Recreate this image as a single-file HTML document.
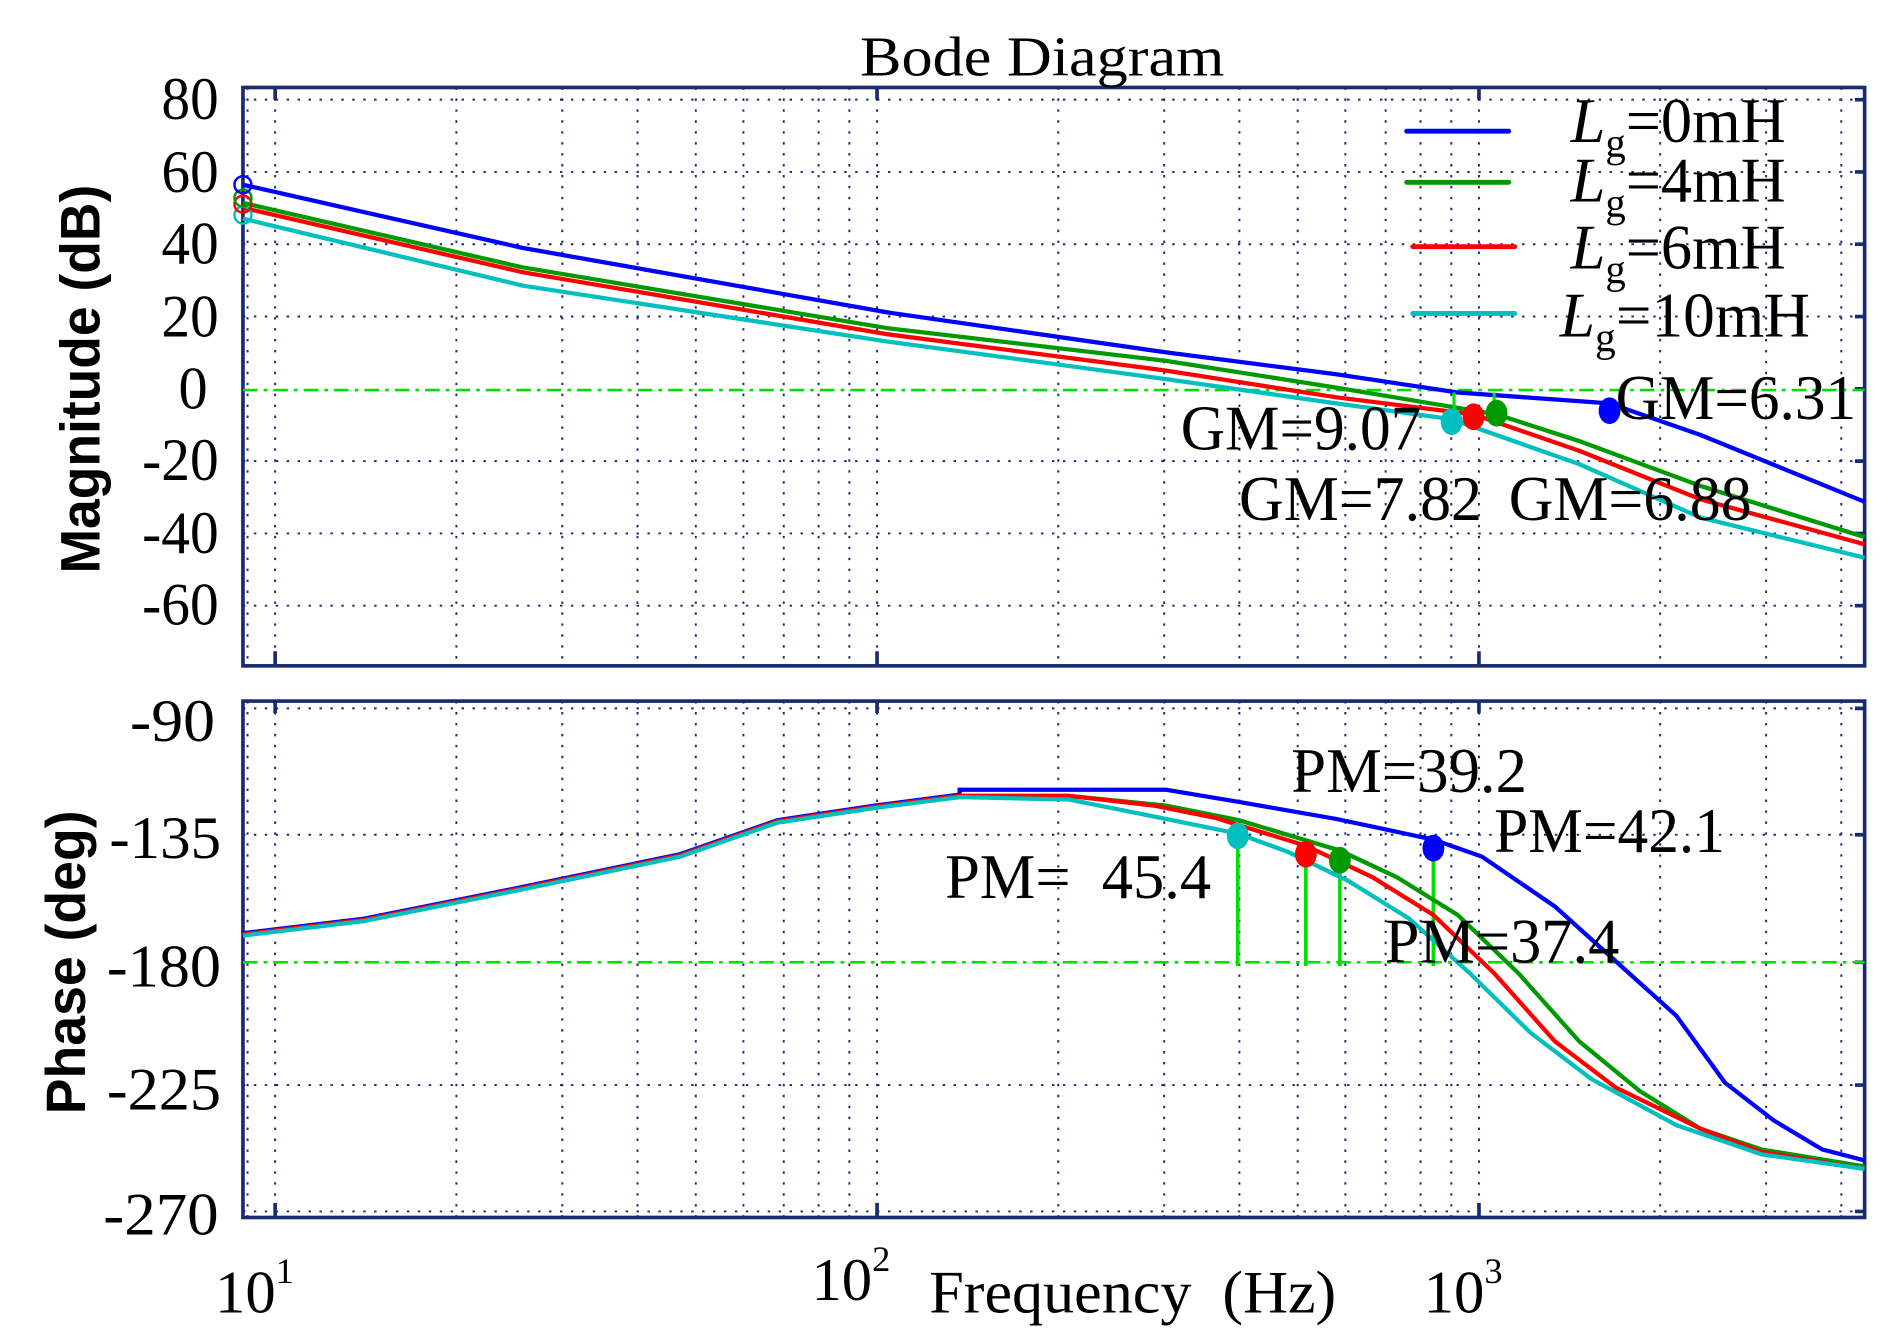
<!DOCTYPE html>
<html><head><meta charset="utf-8"><style>
html,body{margin:0;padding:0;background:#fff;}
svg{display:block;}
text{font-family:"Liberation Serif",serif;fill:#000;}
</style></head><body>
<svg width="1895" height="1339" viewBox="0 0 1560 1102" preserveAspectRatio="none" xmlns="http://www.w3.org/2000/svg">
<rect width="1560" height="1102" fill="#fff"/>
<g stroke="#1a2a6e" stroke-width="1.6" stroke-dasharray="2,7" fill="none">
<path d="M203.8 72V548M226.5 72V548M375.7 72V548M462.9 72V548M524.8 72V548M572.8 72V548M612 72V548M645.2 72V548M673.9 72V548M699.2 72V548M722 72V548M871.2 72V548M958.4 72V548M1020.3 72V548M1068.3 72V548M1107.5 72V548M1140.7 72V548M1169.4 72V548M1194.7 72V548M1217.5 72V548M1366.7 72V548M1453.9 72V548M1515.8 72V548"/>
<path d="M203.8 577V1002M226.5 577V1002M375.7 577V1002M462.9 577V1002M524.8 577V1002M572.8 577V1002M612 577V1002M645.2 577V1002M673.9 577V1002M699.2 577V1002M722 577V1002M871.2 577V1002M958.4 577V1002M1020.3 577V1002M1068.3 577V1002M1107.5 577V1002M1140.7 577V1002M1169.4 577V1002M1194.7 577V1002M1217.5 577V1002M1366.7 577V1002M1453.9 577V1002M1515.8 577V1002"/>
<path d="M200 82H1535M200 141.5H1535M200 201H1535M200 260.5H1535M200 379.5H1535M200 439H1535M200 498.5H1535"/>
<path d="M200 583H1535M200 687H1535M200 893H1535M200 997H1535"/>
</g>
<g stroke="#1a2a6e" stroke-width="3" fill="none">
<path d="M226.5 72v10M722 72v10M1217.5 72v10M226.5 548v-12M722 548v-12M1217.5 548v-12"/>
<path d="M226.5 577v10M722 577v10M1217.5 577v10M226.5 1002v-12M722 1002v-12M1217.5 1002v-12"/>
<path d="M1527 82h8M1527 141.5h8M1527 201h8M1527 260.5h8M1527 320h8M1527 379.5h8M1527 439h8M1527 498.5h8"/>
<path d="M1527 583h8M1527 687h8M1527 792h8M1527 893h8M1527 997h8"/>
<rect x="200" y="72" width="1335" height="476"/>
<rect x="200" y="577" width="1335" height="425"/>
</g>
<g stroke="#00e000" stroke-width="2.2" stroke-dasharray="12,5,3,5" fill="none">
<path d="M200 321H1535M200 792H1535"/>
</g>
<g fill="none" stroke-width="3.5" stroke-linejoin="miter">
<polyline stroke="#00bfbf" points="200,180 430,235 730,281 960,312 1100,332 1195,345 1300,382 1400,426 1535,459"/>
<polyline stroke="#ff0000" points="200,171 430,224 730,275 960,305 1100,327 1213,341 1300,371 1400,411 1535,448"/>
<polyline stroke="#009900" points="200,167 430,220 730,270 960,297 1100,319 1232,341 1300,363 1400,400 1535,442"/>
<polyline stroke="#0000ff" points="200,152 430,204 730,257 960,290 1100,308 1200,323 1325,332 1400,358 1535,413"/>
</g>
<g fill="none" stroke-width="2">
<circle cx="200" cy="177" r="7" stroke="#00bfbf"/>
<circle cx="200" cy="168" r="7" stroke="#ff0000"/>
<circle cx="200" cy="163" r="7" stroke="#009900"/>
<circle cx="200" cy="152" r="7" stroke="#0000ff"/>
</g>
<g stroke="#00e000" stroke-width="2.5"><path d="M1197 347V323M1230 340V323"/></g>
<ellipse cx="1195" cy="347" rx="9" ry="11" fill="#00bfbf"/>
<ellipse cx="1213" cy="343" rx="9" ry="11" fill="#ff0000"/>
<ellipse cx="1232" cy="340" rx="9" ry="11" fill="#009900"/>
<ellipse cx="1325" cy="338" rx="9" ry="11" fill="#0000ff"/>
<g stroke="#00e000" stroke-width="3"><path d="M1019 688V795M1075 703V795M1103 708V795M1180 698V795"/></g>
<g fill="none" stroke-width="3.5">
<polyline stroke="#0000ff" points="200,768 300,756 430,730 560,703 640,675 720,663 790,654 790,650 960,650 1020,660 1100,674 1180,691 1220,705 1280,746 1330,791 1380,836 1420,891 1460,922 1500,946 1535,955"/>
<polyline stroke="#009900" points="200,769 300,757 430,731 560,704 640,676 720,664 790,655 880,655 960,663 1020,675 1103,700 1150,722 1200,753 1250,801 1300,857 1350,898 1400,929 1450,946 1535,960"/>
<polyline stroke="#ff0000" points="200,769 300,757 430,731 560,704 640,676 720,664 790,655 880,655 950,663 1000,673 1075,696 1130,722 1180,753 1230,801 1280,857 1330,895 1400,929 1450,948 1535,962"/>
<polyline stroke="#00bfbf" points="200,770 300,758 430,732 560,705 640,677 720,665 790,656 880,658 940,670 1019,686 1060,701 1110,725 1160,756 1210,801 1260,850 1310,888 1380,926 1450,950 1535,962"/>
</g>
<ellipse cx="1019" cy="688" rx="9" ry="11" fill="#00bfbf"/>
<ellipse cx="1075" cy="703" rx="9" ry="11" fill="#ff0000"/>
<ellipse cx="1103" cy="708" rx="9" ry="11" fill="#009900"/>
<ellipse cx="1180" cy="698" rx="9" ry="11" fill="#0000ff"/>
<g stroke-width="4" stroke-linecap="round">
<line x1="1158" y1="108" x2="1242" y2="108" stroke="#0000ff"/>
<line x1="1158" y1="150" x2="1242" y2="150" stroke="#009900"/>
<line x1="1163" y1="203" x2="1247" y2="203" stroke="#ff0000"/>
<line x1="1163" y1="258" x2="1247" y2="258" stroke="#00bfbf"/>
</g>
<g font-size="52" lengthAdjust="spacingAndGlyphs">
<text x="1293" y="117" textLength="177" lengthAdjust="spacingAndGlyphs"><tspan font-style="italic">L</tspan><tspan font-size="34" dy="12">g</tspan><tspan dy="-12">=0mH</tspan></text>
<text x="1293" y="166" textLength="177" lengthAdjust="spacingAndGlyphs"><tspan font-style="italic">L</tspan><tspan font-size="34" dy="12">g</tspan><tspan dy="-12">=4mH</tspan></text>
<text x="1293" y="221" textLength="177" lengthAdjust="spacingAndGlyphs"><tspan font-style="italic">L</tspan><tspan font-size="34" dy="12">g</tspan><tspan dy="-12">=6mH</tspan></text>
<text x="1284" y="277" textLength="206" lengthAdjust="spacingAndGlyphs"><tspan font-style="italic">L</tspan><tspan font-size="34" dy="12">g</tspan><tspan dy="-12">=10mH</tspan></text>
<text x="1330" y="345" textLength="198" lengthAdjust="spacingAndGlyphs">GM=6.31</text>
<text x="972" y="370" textLength="198" lengthAdjust="spacingAndGlyphs">GM=9.07</text>
<text x="1020" y="428" textLength="200" lengthAdjust="spacingAndGlyphs">GM=7.82</text>
<text x="1242" y="428" textLength="200" lengthAdjust="spacingAndGlyphs">GM=6.88</text>
<text x="1063" y="652" textLength="194" lengthAdjust="spacingAndGlyphs">PM=39.2</text>
<text x="1230" y="701" textLength="190" lengthAdjust="spacingAndGlyphs">PM=42.1</text>
<text x="778" y="739" textLength="219" lengthAdjust="spacingAndGlyphs" xml:space="preserve">PM=  45.4</text>
<text x="1140" y="792" textLength="193" lengthAdjust="spacingAndGlyphs">PM=37.4</text>
</g>
<text x="708" y="62" font-size="46" textLength="300" lengthAdjust="spacingAndGlyphs">Bode Diagram</text>
<g font-size="50">
<text x="133" y="98" textLength="47" lengthAdjust="spacingAndGlyphs">80</text>
<text x="133" y="158" textLength="47" lengthAdjust="spacingAndGlyphs">60</text>
<text x="133" y="217" textLength="47" lengthAdjust="spacingAndGlyphs">40</text>
<text x="133" y="277" textLength="47" lengthAdjust="spacingAndGlyphs">20</text>
<text x="147" y="336" textLength="24" lengthAdjust="spacingAndGlyphs">0</text>
<text x="117" y="395" textLength="63" lengthAdjust="spacingAndGlyphs">-20</text>
<text x="117" y="455" textLength="63" lengthAdjust="spacingAndGlyphs">-40</text>
<text x="117" y="514" textLength="63" lengthAdjust="spacingAndGlyphs">-60</text>
<text x="107" y="610" textLength="70" lengthAdjust="spacingAndGlyphs">-90</text>
<text x="90" y="706" textLength="92" lengthAdjust="spacingAndGlyphs">-135</text>
<text x="88" y="812" textLength="94" lengthAdjust="spacingAndGlyphs">-180</text>
<text x="88" y="913" textLength="94" lengthAdjust="spacingAndGlyphs">-225</text>
<text x="85" y="1016" textLength="95" lengthAdjust="spacingAndGlyphs">-270</text>
</g>
<g font-size="50">
<text x="177" y="1080">10<tspan font-size="30" dy="-24">1</tspan></text>
<text x="668" y="1070">10<tspan font-size="30" dy="-24">2</tspan></text>
<text x="1172" y="1080">10<tspan font-size="30" dy="-24">3</tspan></text>
<text x="765" y="1080" textLength="335" lengthAdjust="spacingAndGlyphs" xml:space="preserve">Frequency  (Hz)</text>
</g>
<text transform="translate(82,312) rotate(-90)" font-size="46" text-anchor="middle" font-weight="bold" style="font-family:'Liberation Sans',sans-serif" textLength="320" lengthAdjust="spacingAndGlyphs">Magnitude (dB)</text>
<text transform="translate(70,792) rotate(-90)" font-size="46" text-anchor="middle" font-weight="bold" style="font-family:'Liberation Sans',sans-serif" textLength="250" lengthAdjust="spacingAndGlyphs">Phase (deg)</text>
</svg>
</body></html>
